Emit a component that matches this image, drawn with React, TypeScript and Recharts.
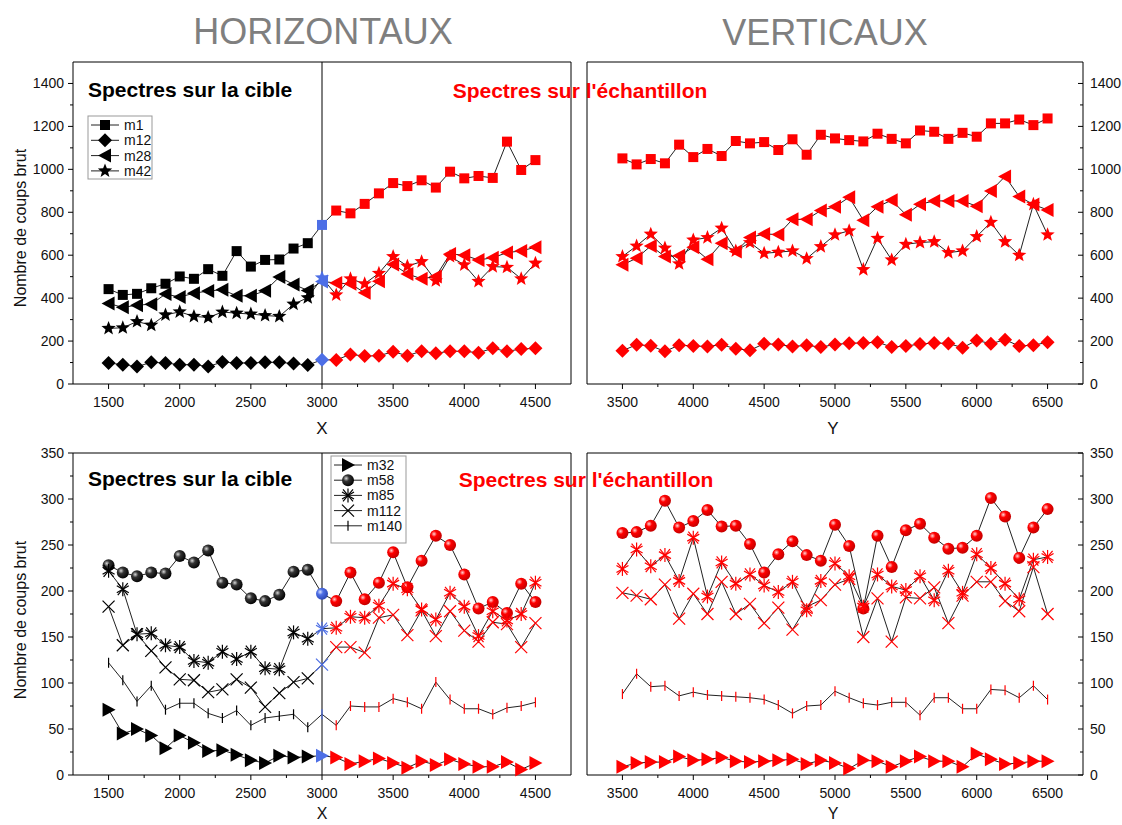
import { LineChart, Line, XAxis, YAxis, ReferenceLine } from 'recharts';

// positions along X (horizontal scan) and Y (vertical scan)
const xH = [1500, 1600, 1700, 1800, 1900, 2000, 2100, 2200, 2300, 2400, 2500, 2600, 2700, 2800, 2900, 3000, 3100, 3200, 3300, 3400, 3500, 3600, 3700, 3800, 3900, 4000, 4100, 4200, 4300, 4400, 4500];
const xV = [3500, 3600, 3700, 3800, 3900, 4000, 4100, 4200, 4300, 4400, 4500, 4600, 4700, 4800, 4900, 5000, 5100, 5200, 5300, 5400, 5500, 5600, 5700, 5800, 5900, 6000, 6100, 6200, 6300, 6400, 6500];

// top row: m1, m12, m28, m42
const hM1 = [442, 415, 420, 446, 467, 501, 490, 535, 504, 619, 547, 578, 580, 631, 656, 741, 808, 795, 839, 888, 936, 922, 949, 915, 989, 958, 969, 960, 1129, 997, 1043];
const hM12 = [98, 90, 81, 101, 98, 90, 90, 82, 102, 98, 98, 101, 101, 95, 88, 113, 112, 138, 130, 132, 150, 132, 153, 143, 153, 152, 146, 166, 152, 163, 166];
const hM28 = [375, 357, 367, 372, 419, 405, 423, 433, 439, 411, 411, 434, 498, 464, 436, 478, 470, 467, 425, 479, 557, 513, 490, 501, 606, 600, 578, 588, 612, 620, 637];
const hM42 = [259, 262, 291, 274, 322, 336, 315, 310, 335, 330, 326, 319, 315, 372, 402, 495, 415, 490, 467, 516, 594, 549, 570, 481, 594, 555, 478, 547, 544, 490, 563];

const vM1 = [1051, 1023, 1048, 1028, 1115, 1057, 1095, 1062, 1132, 1121, 1127, 1090, 1140, 1068, 1161, 1144, 1136, 1130, 1166, 1142, 1121, 1181, 1175, 1142, 1170, 1152, 1214, 1214, 1232, 1206, 1237];
const vM12 = [155, 183, 178, 152, 181, 177, 175, 183, 164, 157, 188, 184, 175, 180, 172, 184, 190, 191, 195, 172, 177, 186, 191, 189, 169, 203, 188, 206, 177, 181, 194];
const vM28 = [555, 586, 643, 594, 597, 637, 581, 656, 617, 682, 699, 696, 767, 767, 808, 826, 870, 763, 826, 856, 789, 837, 853, 853, 853, 828, 899, 967, 873, 836, 811];
const vM42 = [594, 643, 698, 633, 560, 671, 682, 726, 620, 659, 609, 614, 620, 584, 640, 695, 714, 533, 679, 578, 651, 659, 663, 612, 620, 687, 753, 663, 600, 837, 695];

// bottom row: m32, m58, m85, m112, m140
const bM32 = [71, 45, 50, 43, 29, 43, 35, 26, 27, 22, 16, 13, 21, 19, 20, 21, 19, 12, 15, 18, 13, 8, 15, 11, 17, 12, 9, 9, 14, 6, 13];
const bM58 = [228, 220, 216, 220, 219, 238, 231, 244, 209, 207, 192, 189, 196, 221, 223, 197, 189, 220, 191, 209, 242, 204, 233, 260, 250, 218, 181, 188, 176, 208, 188];
const bM85 = [222, 202, 153, 154, 141, 139, 124, 122, 134, 126, 134, 116, 115, 155, 148, 159, 160, 172, 171, 184, 208, 202, 180, 169, 198, 183, 151, 178, 168, 175, 209];
const bM112 = [183, 141, 153, 135, 117, 104, 103, 90, 93, 104, 95, 74, 89, 101, 105, 120, 139, 139, 133, 171, 174, 152, 179, 151, 178, 157, 145, 166, 164, 139, 165];
const bM140 = [122, 103, 80, 97, 71, 78, 78, 67, 62, 70, 54, 62, 64, 66, 52, 66, 54, 75, 74, 74, 83, 79, 72, 101, 82, 72, 72, 66, 73, 75, 79];

const vM32 = [9, 13, 14, 14, 20, 16, 17, 19, 15, 14, 15, 16, 17, 12, 16, 13, 7, 16, 15, 9, 15, 20, 15, 15, 9, 23, 17, 12, 13, 15, 15];
const vM58 = [263, 264, 271, 298, 269, 276, 288, 270, 271, 251, 220, 240, 254, 239, 233, 272, 249, 181, 260, 226, 266, 273, 258, 246, 247, 260, 301, 281, 236, 269, 289];
const vM85 = [224, 245, 227, 239, 211, 258, 194, 231, 208, 218, 206, 199, 210, 179, 211, 230, 216, 183, 218, 205, 201, 216, 190, 222, 198, 240, 225, 208, 191, 234, 237];
const vM112 = [198, 195, 191, 207, 170, 197, 175, 210, 175, 186, 165, 182, 158, 183, 190, 207, 213, 150, 192, 145, 193, 192, 204, 165, 195, 210, 210, 189, 178, 226, 175];
const vM140 = [88, 110, 96, 97, 86, 90, 87, 86, 85, 84, 82, 76, 67, 75, 76, 91, 84, 78, 76, 79, 79, 65, 84, 84, 72, 72, 93, 92, 84, 97, 82];

// tick positions
const hTicks = [1500, 1750, 2000, 2250, 2500, 2750, 3000, 3250, 3500, 3750, 4000, 4250, 4500];
const vTicks = [3500, 3750, 4000, 4250, 4500, 4750, 5000, 5250, 5500, 5750, 6000, 6250, 6500];
const topYTicks = [0, 100, 200, 300, 400, 500, 600, 700, 800, 900, 1000, 1100, 1200, 1300, 1400];
const botYTicks = [0, 25, 50, 75, 100, 125, 150, 175, 200, 225, 250, 275, 300, 325, 350];

const topSeries = [
  { key: 'm1', shape: 'square' },
  { key: 'm12', shape: 'diamond' },
  { key: 'm28', shape: 'left' },
  { key: 'm42', shape: 'star' },
];
const botSeries = [
  { key: 'm32', shape: 'right' },
  { key: 'm58', shape: 'sphere' },
  { key: 'm85', shape: 'asterisk' },
  { key: 'm112', shape: 'cross' },
  { key: 'm140', shape: 'pipe' },
];

const FONT = "Arial, 'Liberation Sans', sans-serif";
const BLACK = '#000000';
const BLUE = '#4d6fe6';
const RED = '#ff0000';
const sphereId: Record<string, string> = { [BLACK]: 'sphK', [BLUE]: 'sphB', [RED]: 'sphR' };

function buildRows(xs: number[], series: Record<string, number[]>) {
  return xs.map((x, i) => {
    const r: any = { x };
    Object.keys(series).forEach((k) => (r[k] = series[k][i]));
    return r;
  });
}

const dataTL = buildRows(xH, { m1: hM1, m12: hM12, m28: hM28, m42: hM42 });
const dataTR = buildRows(xV, { m1: vM1, m12: vM12, m28: vM28, m42: vM42 });
const dataBL = buildRows(xH, { m32: bM32, m58: bM58, m85: bM85, m112: bM112, m140: bM140 });
const dataBR = buildRows(xV, { m32: vM32, m58: vM58, m85: vM85, m112: vM112, m140: vM140 });

function marker(shape: string, cx: number, cy: number, color: string, key?: string) {
  switch (shape) {
    case 'square':
      return <rect key={key} x={cx - 5} y={cy - 5} width={10} height={10} fill={color} />;
    case 'diamond':
      return <polygon key={key} points={`${cx},${cy - 7} ${cx + 7},${cy} ${cx},${cy + 7} ${cx - 7},${cy}`} fill={color} />;
    case 'left':
      return <polygon key={key} points={`${cx - 7},${cy} ${cx + 6},${cy - 7} ${cx + 6},${cy + 7}`} fill={color} />;
    case 'right':
      return <polygon key={key} points={`${cx + 7},${cy} ${cx - 6},${cy - 7} ${cx - 6},${cy + 7}`} fill={color} />;
    case 'star': {
      const pts: string[] = [];
      for (let i = 0; i < 10; i++) {
        const r = i % 2 === 0 ? 7.5 : 3.2;
        const a = -Math.PI / 2 + (i * Math.PI) / 5;
        pts.push(`${cx + r * Math.cos(a)},${cy + r * Math.sin(a)}`);
      }
      return <polygon key={key} points={pts.join(' ')} fill={color} />;
    }
    case 'sphere':
      return <circle key={key} cx={cx} cy={cy} r={6} fill={`url(#${sphereId[color]})`} />;
    case 'asterisk':
      return (
        <g key={key} stroke={color} strokeWidth={1.2}>
          <line x1={cx} y1={cy - 7} x2={cx} y2={cy + 7} />
          <line x1={cx - 6} y1={cy - 3.5} x2={cx + 6} y2={cy + 3.5} />
          <line x1={cx - 6} y1={cy + 3.5} x2={cx + 6} y2={cy - 3.5} />
          <line x1={cx - 5} y1={cy - 6} x2={cx + 5} y2={cy + 6} />
          <line x1={cx - 5} y1={cy + 6} x2={cx + 5} y2={cy - 6} />
        </g>
      );
    case 'cross':
      return (
        <g key={key} stroke={color} strokeWidth={1.2}>
          <line x1={cx - 6} y1={cy - 6} x2={cx + 6} y2={cy + 6} />
          <line x1={cx - 6} y1={cy + 6} x2={cx + 6} y2={cy - 6} />
        </g>
      );
    case 'pipe':
      return <line key={key} x1={cx} y1={cy - 5} x2={cx} y2={cy + 5} stroke={color} strokeWidth={1.2} />;
    default:
      return <circle key={key} cx={cx} cy={cy} r={4} fill={color} />;
  }
}

const makeXTick = (major: number) => (p: any) => {
  const v = p.payload.value;
  const isMajor = v % major === 0;
  return (
    <g>
      <line x1={p.x} x2={p.x} y1={p.y} y2={p.y + (isMajor ? 5 : 3)} stroke="#000" />
      {isMajor && (
        <text x={p.x} y={p.y + 23} textAnchor="middle" fontSize={14} fontFamily={FONT} fill="#111">
          {v}
        </text>
      )}
    </g>
  );
};

const makeYTick = (major: number, side: 'left' | 'right') => (p: any) => {
  const v = p.payload.value;
  const isMajor = v % major === 0;
  const len = isMajor ? 5 : 3;
  return (
    <g>
      <line x1={p.x - len} x2={p.x} y1={p.y} y2={p.y} stroke="#000" />
      {isMajor && (
        <text
          x={side === 'left' ? p.x - 9 : p.x + 7}
          y={p.y + 5}
          textAnchor={side === 'left' ? 'end' : 'start'}
          fontSize={14}
          fontFamily={FONT}
          fill="#111"
        >
          {v}
        </text>
      )}
    </g>
  );
};

interface PanelProps {
  rect: { left: number; top: number; right: number; bottom: number };
  data: any[];
  series: { key: string; shape: string }[];
  xDomain: [number, number];
  xTicks: number[];
  yDomain: [number, number];
  yTicks: number[];
  yMajor: number;
  side: 'left' | 'right';
  split: boolean;
}

function Panel({ rect, data, series, xDomain, xTicks, yDomain, yTicks, yMajor, side, split }: PanelProps) {
  const pw = rect.right - rect.left;
  const ph = rect.bottom - rect.top;
  const colorOf = (x: number) => (!split ? RED : x < 3000 ? BLACK : x === 3000 ? BLUE : RED);
  const margin = side === 'left'
    ? { top: 20, left: 30, right: 70, bottom: 20 }
    : { top: 20, left: 70, right: 30, bottom: 20 };

  return (
    <div style={{ position: 'absolute', left: rect.left - 70, top: rect.top - 20 }}>
      <LineChart width={pw + 140} height={ph + 70} data={data} margin={margin}>
        <XAxis
          dataKey="x"
          type="number"
          domain={xDomain}
          ticks={xTicks}
          interval={0}
          height={30}
          tickSize={0}
          tickMargin={0}
          tickLine={false}
          axisLine={{ stroke: '#000' }}
          tick={makeXTick(500)}
        />
        <YAxis
          type="number"
          orientation={side}
          domain={yDomain}
          ticks={yTicks}
          interval={0}
          width={40}
          tickSize={0}
          tickMargin={0}
          tickLine={false}
          axisLine={{ stroke: '#000' }}
          tick={makeYTick(yMajor, side)}
        />
        {/* rest of the frame */}
        <ReferenceLine y={yDomain[1]} stroke="#000" />
        <ReferenceLine x={side === 'left' ? xDomain[1] : xDomain[0]} stroke="#000" />
        {split && <ReferenceLine x={3000} stroke="#000" />}
        {series.map((s) => (
          <Line
            key={s.key}
            dataKey={s.key}
            stroke="#222"
            strokeWidth={1}
            isAnimationActive={false}
            activeDot={false}
            dot={(p: any) => marker(s.shape, p.cx, p.cy, colorOf(p.payload.x), `${s.key}-${p.index}`)}
          />
        ))}
      </LineChart>
    </div>
  );
}

function LegendBox({ x, y, w, h, rowH, series }: { x: number; y: number; w: number; h: number; rowH: number; series: { key: string; shape: string }[] }) {
  return (
    <g>
      <rect x={x} y={y} width={w} height={h} fill="#fff" stroke="#999" />
      {series.map((s, i) => {
        const cy = y + 9 + i * rowH;
        return (
          <g key={s.key}>
            <line x1={x + 3} x2={x + 31} y1={cy} y2={cy} stroke="#222" />
            {marker(s.shape, x + 17, cy, BLACK)}
            <text x={x + 36} y={cy + 5} fontSize={14} fontFamily={FONT} fill="#111">
              {s.key}
            </text>
          </g>
        );
      })}
    </g>
  );
}

export default function App() {
  const top = { top: 62, bottom: 384 };
  const bot = { top: 453, bottom: 775 };
  const txt = { fontFamily: FONT };

  return (
    <div style={{ position: 'absolute', left: 0, top: 0, width: 1122, height: 825, overflow: 'hidden', background: '#fff' }}>
      <svg width={0} height={0} style={{ position: 'absolute' }}>
        <defs>
          <radialGradient id="sphK" cx="35%" cy="35%" r="70%">
            <stop offset="0%" stopColor="#d8d8d8" />
            <stop offset="35%" stopColor="#333" />
            <stop offset="100%" stopColor="#000" />
          </radialGradient>
          <radialGradient id="sphB" cx="35%" cy="35%" r="70%">
            <stop offset="0%" stopColor="#dde4ff" />
            <stop offset="35%" stopColor={BLUE} />
            <stop offset="100%" stopColor="#2a44b0" />
          </radialGradient>
          <radialGradient id="sphR" cx="35%" cy="35%" r="70%">
            <stop offset="0%" stopColor="#ffd6d6" />
            <stop offset="35%" stopColor={RED} />
            <stop offset="100%" stopColor="#c00000" />
          </radialGradient>
        </defs>
      </svg>

      <Panel rect={{ left: 73, right: 571, ...top }} data={dataTL} series={topSeries} xDomain={[1250, 4750]} xTicks={hTicks}
        yDomain={[0, 1500]} yTicks={topYTicks} yMajor={200} side="left" split />
      <Panel rect={{ left: 587, right: 1083, ...top }} data={dataTR} series={topSeries} xDomain={[3250, 6750]} xTicks={vTicks}
        yDomain={[0, 1500]} yTicks={topYTicks} yMajor={200} side="right" split={false} />
      <Panel rect={{ left: 73, right: 571, ...bot }} data={dataBL} series={botSeries} xDomain={[1250, 4750]} xTicks={hTicks}
        yDomain={[0, 350]} yTicks={botYTicks} yMajor={50} side="left" split />
      <Panel rect={{ left: 587, right: 1083, ...bot }} data={dataBR} series={botSeries} xDomain={[3250, 6750]} xTicks={vTicks}
        yDomain={[0, 350]} yTicks={botYTicks} yMajor={50} side="right" split={false} />

      <svg width={1122} height={825} style={{ position: 'absolute', left: 0, top: 0, pointerEvents: 'none' }}>
        <g style={txt}>
          <text x={323} y={44} textAnchor="middle" fontSize={36} fill="#7f7f7f">HORIZONTAUX</text>
          <text x={825} y={45} textAnchor="middle" fontSize={36} fill="#7f7f7f">VERTICAUX</text>

          <text x={88} y={97} fontSize={21} fontWeight="bold" fill="#000">Spectres sur la cible</text>
          <text x={580} y={98} textAnchor="middle" fontSize={21} fontWeight="bold" fill={RED}>Spectres sur l'échantillon</text>
          <text x={88} y={486} fontSize={21} fontWeight="bold" fill="#000">Spectres sur la cible</text>
          <text x={586} y={487} textAnchor="middle" fontSize={21} fontWeight="bold" fill={RED}>Spectres sur l'échantillon</text>

          <text transform="translate(26,228) rotate(-90)" textAnchor="middle" fontSize={16} fill="#111">Nombre de coups brut</text>
          <text transform="translate(26,620) rotate(-90)" textAnchor="middle" fontSize={16} fill="#111">Nombre de coups brut</text>

          <text x={322} y={434} textAnchor="middle" fontSize={17} fill="#111">X</text>
          <text x={833} y={434} textAnchor="middle" fontSize={17} fill="#111">Y</text>
          <text x={322} y={819} textAnchor="middle" fontSize={16} fill="#111">X</text>
          <text x={833} y={819} textAnchor="middle" fontSize={16} fill="#111">Y</text>
        </g>
        <LegendBox x={88} y={116} w={64} h={63} rowH={15.3} series={topSeries} />
        <LegendBox x={331} y={456} w={75} h={87} rowH={15.2} series={botSeries} />
      </svg>
    </div>
  );
}
